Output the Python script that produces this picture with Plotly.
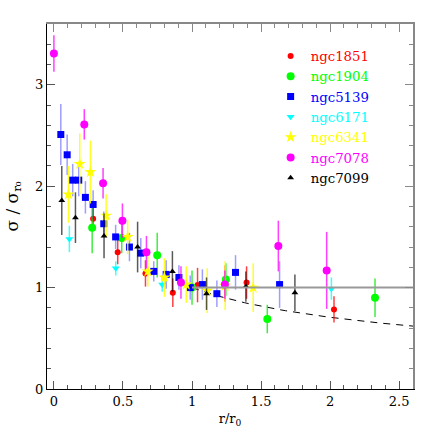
import numpy as np
import plotly.graph_objects as go

# ---- data ----
names = ["ngc1851", "ngc1904", "ngc5139", "ngc6171", "ngc6341", "ngc7078", "ngc7099"]

ngc1851_r = [0.284, 0.462, 0.663, 0.861, 1.04, 1.24, 1.395, 2.028]
ngc1851_s = [1.68, 1.35, 1.14, 0.95, 1.025, 1.04, 1.05, 0.785]
ngc1851_e = [0.12, 0.12, 0.13, 0.14, 0.17, 0.18, 0.16, 0.13]

ngc1904_r = [0.277, 0.491, 0.748, 1.0, 1.245, 1.545, 2.325]
ngc1904_s = [1.59, 1.49, 1.32, 1.0, 1.08, 0.69, 0.90]
ngc1904_e = [0.25, 0.15, 0.22, 0.17, 0.16, 0.14, 0.19]

ngc5139_r = [0.05, 0.096, 0.136, 0.18, 0.228, 0.284, 0.361, 0.447, 0.547, 0.629,
             0.723, 0.813, 0.905, 0.987, 1.075, 1.18, 1.315, 1.634]
ngc5139_s = [2.51, 2.31, 2.06, 2.06, 1.89, 1.82, 1.63, 1.50, 1.40, 1.34,
             1.16, 1.13, 1.10, 1.00, 1.03, 0.94, 1.15, 1.03]
ngc5139_e = [0.30, 0.20, 0.16, 0.16, 0.16, 0.14, 0.12, 0.12, 0.14, 0.15,
             0.10, 0.14, 0.12, 0.12, 0.15, 0.13, 0.17, 0.23]

ngc6171_r = [0.112, 0.448, 0.784, 2.009]
ngc6171_s = [1.48, 1.19, 1.03, 0.99]
ngc6171_e = [0.13, 0.07, 0.07, 0.11]

ngc6341_r = [0.105, 0.187, 0.264, 0.378, 0.534, 0.68, 0.80, 0.958, 1.11, 1.24, 1.443]
ngc6341_s = [1.92, 2.22, 2.14, 1.71, 1.50, 1.16, 1.10, 1.03, 0.97, 1.02, 1.00]
ngc6341_e = [0.28, 0.30, 0.31, 0.21, 0.17, 0.15, 0.19, 0.18, 0.22, 0.24, 0.24]

ngc7078_r = [0.0, 0.22, 0.356, 0.496, 0.67, 0.92, 1.238, 1.625, 1.975]
ngc7078_s = [3.31, 2.61, 2.03, 1.66, 1.35, 1.05, 1.03, 1.41, 1.17]
ngc7078_e = [0.18, 0.15, 0.15, 0.17, 0.16, 0.16, 0.14, 0.25, 0.38]

ngc7099_r = [0.057, 0.156, 0.363, 0.606, 0.858, 1.105, 1.39, 1.745]
ngc7099_s = [1.86, 1.69, 1.51, 1.40, 1.16, 0.94, 1.01, 0.95]
ngc7099_e = [0.34, 0.25, 0.22, 0.25, 0.20, 0.16, 0.15, 0.18]

# reference lines: flat (sigma = 1) and Keplerian (r^-1/2) beyond r0
ref_r = [1.0, 2.6]
ref_flat = [1.0, 1.0]
kep_r = np.linspace(1.0, 2.6, 60)
kep_s = kep_r ** -0.5

x_ticks = [0, 0.5, 1, 1.5, 2, 2.5]
x_labels = ["0", "0.5", "1", "1.5", "2", "2.5"]
y_ticks = [0, 1, 2, 3]
X_RANGE = [-0.05, 2.6]
Y_RANGE = [0, 3.6]

series = [
    (ngc1851_r, ngc1851_s, ngc1851_e, "#ff0000", "rgba(255,0,0,0.75)", "circle", 6),
    (ngc1904_r, ngc1904_s, ngc1904_e, "#00ff00", "rgba(0,230,0,0.75)", "circle", 8),
    (ngc5139_r, ngc5139_s, ngc5139_e, "#0000ff", "rgba(40,40,255,0.45)", "square", 7),
    (ngc6171_r, ngc6171_s, ngc6171_e, "#00ffff", "rgba(0,255,255,0.75)", "triangle-down", 7),
    (ngc6341_r, ngc6341_s, ngc6341_e, "#ffff00", "rgba(255,255,0,0.85)", "star", 9),
    (ngc7078_r, ngc7078_s, ngc7078_e, "#ff00ff", "rgba(255,0,255,0.75)", "circle", 8),
    (ngc7099_r, ngc7099_s, ngc7099_e, "#000000", "rgba(0,0,0,0.65)", "triangle-up", 6),
]

FONT = "DejaVu Serif"

fig = go.Figure()

# flat line lives on the mirrored (top/right) axes so those axes get drawn
fig.add_trace(go.Scatter(x=ref_r, y=ref_flat, mode="lines", xaxis="x2", yaxis="y2",
                         line=dict(color="#999999", width=2),
                         showlegend=False, hoverinfo="skip"))
fig.add_trace(go.Scatter(x=kep_r, y=kep_s, mode="lines",
                         line=dict(color="#000000", width=1, dash="7px,6px"),
                         showlegend=False, hoverinfo="skip"))

for i, (r, s, e, col, ecol, sym, sz) in enumerate(series):
    fig.add_trace(go.Scatter(
        x=r, y=s, mode="markers",
        name=f"<span style='color:{col}'>{names[i]}</span>",
        marker=dict(color=col, symbol=sym, size=sz, line=dict(width=0)),
        error_y=dict(type="data", array=e, visible=True, color=ecol,
                     thickness=1.5, width=0),
    ))

fig.update_layout(
    width=436, height=436,
    margin=dict(l=47, r=23, t=24, b=47),
    paper_bgcolor="white", plot_bgcolor="white",
    font=dict(family=FONT, size=13, color="black"),
    showlegend=True,
    legend=dict(x=0.611, y=0.954, xanchor="left", yanchor="top",
                bgcolor="rgba(0,0,0,0)", borderwidth=0,
                font=dict(family=FONT, size=13.3),
                itemwidth=30, tracegroupgap=0),
    xaxis=dict(range=X_RANGE, tickvals=x_ticks, ticktext=x_labels, automargin=False,
               ticks="inside", ticklen=8, tickwidth=1, tickcolor="#555",
               showline=True, linecolor="black", linewidth=1,
               mirror=False, showgrid=False, zeroline=False,
               minor=dict(dtick=0.1, ticks="inside", ticklen=4, tickcolor="#555", showgrid=False),
               title=dict(text="r/r<sub>0</sub>", font=dict(size=13), standoff=6)),
    yaxis=dict(range=Y_RANGE, tickvals=y_ticks, automargin=False,
               ticks="inside", ticklen=8, tickwidth=1, tickcolor="#555",
               showline=True, linecolor="black", linewidth=1,
               mirror=False, showgrid=False, zeroline=False,
               minor=dict(dtick=0.2, ticks="inside", ticklen=4, tickcolor="#555", showgrid=False),
               title=dict(text="σ / σ<sub>r₀</sub>", font=dict(size=17), standoff=12)),
    xaxis2=dict(range=X_RANGE, overlaying="x", side="top", anchor="y2", automargin=False,
                tickvals=x_ticks, showticklabels=False,
                ticks="inside", ticklen=8, tickcolor="#888",
                showline=True, linecolor="#888", linewidth=1.5,
                showgrid=False, zeroline=False,
                minor=dict(dtick=0.1, ticks="inside", ticklen=4, tickcolor="#888", showgrid=False)),
    yaxis2=dict(range=Y_RANGE, overlaying="y", side="right", anchor="x2", automargin=False,
                tickvals=y_ticks, showticklabels=False,
                ticks="inside", ticklen=8, tickcolor="#888",
                showline=True, linecolor="#888", linewidth=1.5,
                showgrid=False, zeroline=False,
                minor=dict(dtick=0.2, ticks="inside", ticklen=4, tickcolor="#888", showgrid=False)),
)

fig.write_html("out.html", config={"displayModeBar": False},
               post_script="document.body.style.margin='0';")
